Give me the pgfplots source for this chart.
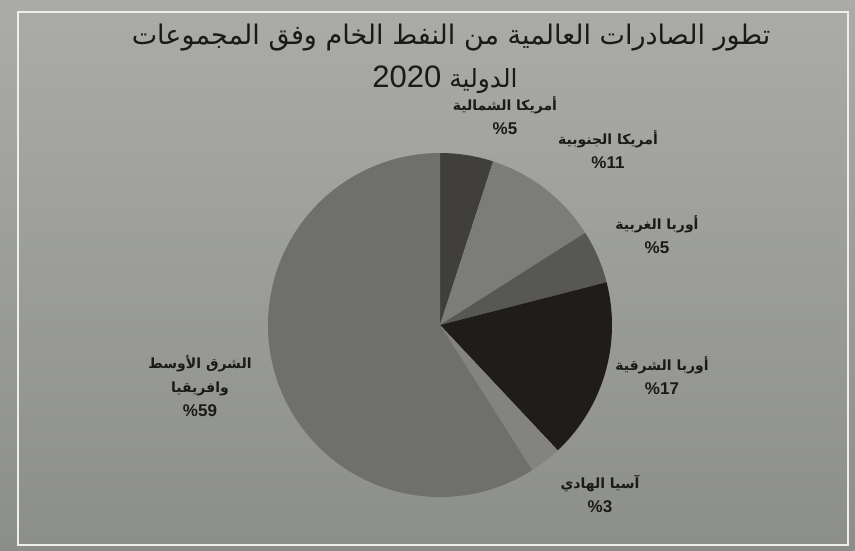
\documentclass[border=0pt]{standalone}
\usepackage{fontspec}
\setmainfont{Liberation Sans}
\newfontfamily\arabicfont[Script=Arabic]{DejaVu Sans}
\TeXXeTstate=1
\usepackage{pgfplots}
\usepackage{pgfplotstable}
\pgfplotsset{compat=1.18}
\definecolor{bgtop}{HTML}{ABACA7}
\definecolor{bgbot}{HTML}{8C8E89}
\definecolor{cNA}{HTML}{403F3D}
\definecolor{cSA}{HTML}{7C7D7A}
\definecolor{cWE}{HTML}{575856}
\definecolor{cEE}{HTML}{201C1C}
\definecolor{cAP}{HTML}{838481}
\definecolor{cME}{HTML}{6F706D}
\definecolor{txt}{HTML}{1A1A1A}
% shares of world crude oil exports 2020 (%), clockwise from 12 o'clock
\pgfplotstableread[col sep=comma]{
value,color
5,cNA
11,cSA
5,cWE
17,cEE
3,cAP
59,cME
}\piedata
\begin{document}
\begin{tikzpicture}
\begin{axis}[x=1pt,y=1pt,xmin=0,xmax=855,ymin=0,ymax=550,hide axis,clip=false]
\fill[top color=bgtop,bottom color=bgbot] (axis cs:0,0) rectangle (axis cs:855,550);
\draw[color=white!80!bgtop,line width=1.5pt] (axis cs:18,5) rectangle (axis cs:848,538);
\pgfplotstablegetrowsof{\piedata}
\pgfmathtruncatemacro\lastrow{\pgfplotsretval-1}
\def\cum{90}
\pgfplotsforeachungrouped \i in {0,...,\lastrow}{%
  \pgfplotstablegetelem{\i}{value}\of\piedata
  \pgfmathsetmacro\ang{3.6*\pgfplotsretval}
  \pgfplotstablegetelem{\i}{color}\of\piedata
  \let\col\pgfplotsretval
  \pgfmathsetmacro\endang{\cum-\ang}
  \pgfmathsetmacro\sx{440+172*cos(\cum)}
  \pgfmathsetmacro\sy{225+172*sin(\cum)}
  \edef\tmp{\noexpand\fill[\col] (axis cs:440,225) -- (axis cs:\sx,\sy) arc[start angle=\cum, end angle=\endang, radius=172pt] -- cycle;}
  \tmp
  \global\let\cum\endang
}
% title
\node[text=txt,font=\fontsize{27}{30}\selectfont] at (axis cs:451,512) {\arabicfont\beginR تطور الصادرات العالمية من النفط الخام وفق المجموعات\endR};
\node[text=txt,anchor=base] at (axis cs:445,462) {{\fontsize{31}{34}\selectfont 2020}\hspace{8pt}{\arabicfont\fontsize{25}{28}\selectfont\beginR الدولية\endR}};
% labels
\node[text=txt,align=center,font=\fontsize{14}{24}\selectfont] at (axis cs:505,434) {{\arabicfont\bfseries\beginR أمريكا الشمالية\endR}\\{\bfseries\fontsize{17}{20}\selectfont\%5}};
\node[text=txt,align=center,font=\fontsize{14}{24}\selectfont] at (axis cs:608,400) {{\arabicfont\bfseries\beginR أمريكا الجنوبية\endR}\\{\bfseries\fontsize{17}{20}\selectfont\%11}};
\node[text=txt,align=center,font=\fontsize{14}{24}\selectfont] at (axis cs:657,315) {{\arabicfont\bfseries\beginR أوربا الغربية\endR}\\{\bfseries\fontsize{17}{20}\selectfont\%5}};
\node[text=txt,align=center,font=\fontsize{14}{24}\selectfont] at (axis cs:662,174) {{\arabicfont\bfseries\beginR أوربا الشرقية\endR}\\{\bfseries\fontsize{17}{20}\selectfont\%17}};
\node[text=txt,align=center,font=\fontsize{14}{24}\selectfont] at (axis cs:600,56) {{\arabicfont\bfseries\beginR آسيا الهادي\endR}\\{\bfseries\fontsize{17}{20}\selectfont\%3}};
\node[text=txt,align=center,font=\fontsize{14}{24}\selectfont] at (axis cs:200,164) {{\arabicfont\bfseries\beginR الشرق الأوسط\endR}\\{\arabicfont\bfseries\beginR وافريقيا\endR}\\{\bfseries\fontsize{17}{20}\selectfont\%59}};
\end{axis}
\end{tikzpicture}
\end{document}
